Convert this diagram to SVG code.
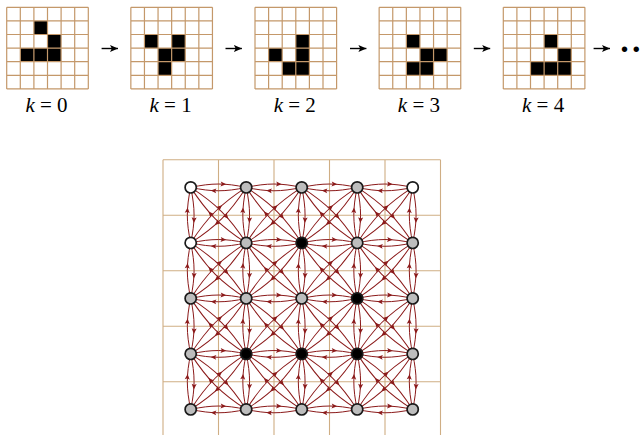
<svg xmlns="http://www.w3.org/2000/svg" width="643" height="435" viewBox="0 0 643 435">
<style>
.gl{fill:none;stroke:#c4986a;stroke-width:1.2}
.bk{fill:#000}
.lbl{font-family:"Liberation Serif","Times New Roman",serif;font-size:21px;fill:#000;text-anchor:middle}
.ar{stroke:#000;stroke-width:1.4;fill:none}
.bg{fill:none;stroke:#cfae84;stroke-width:1.1}
.e{fill:none;stroke:#8b1a1a;stroke-width:1}
.ah{fill:#8b1a1a}
.nd{stroke:#1a1a1a;stroke-width:1.7}
.w{fill:#fff}.g{fill:#bdbdbd}.b{fill:#000}
.dots{font-family:"Liberation Sans",Arial,sans-serif;font-size:20px;fill:#000}
</style>
<defs>
<path id="g6" d="M0,0H81.6M0,13.6H81.6M0,27.2H81.6M0,40.8H81.6M0,54.4H81.6M0,68H81.6M0,81.6H81.6M0,0V81.6M13.6,0V81.6M27.2,0V81.6M40.8,0V81.6M54.4,0V81.6M68,0V81.6M81.6,0V81.6"/>
<marker id="ak" markerWidth="9" markerHeight="9" refX="8" refY="4.5" orient="auto" markerUnits="userSpaceOnUse"><path d="M0,1 L8,4.5 L0,8 L1.8,4.5 Z" fill="#000"/></marker>
<g id="h"><path class="e" d="M0,0C21.2,-4.5 34.3,-4.5 55.5,0"/><path class="ah" transform="translate(35.5,-3.1) rotate(3.8)" d="M0,0L-5.6,-2.5L-4.4,0L-5.6,2.5Z"/></g>
<g id="d"><path class="e" d="M0,0C29.9,-6.37 48.6,-6.37 78.5,0"/><path class="ah" transform="translate(48.8,-4.5) rotate(3.5)" d="M0,0L-5.6,-2.5L-4.4,0L-5.6,2.5Z"/></g>
<g id="hp"><use href="#h"/><use href="#h" transform="translate(55.5,0) rotate(180)"/></g>
<g id="dp"><use href="#d" transform="rotate(45)"/><use href="#d" transform="translate(55.5,55.5) rotate(225)"/></g>
</defs>
<rect width="643" height="435" fill="#fff"/>

<g id="grid-k0" transform="translate(6.7,7.3)">
<rect class="bk" x="27.2" y="13.6" width="13.6" height="13.6"/><rect class="bk" x="40.8" y="27.2" width="13.6" height="13.6"/><rect class="bk" x="13.6" y="40.8" width="13.6" height="13.6"/><rect class="bk" x="27.2" y="40.8" width="13.6" height="13.6"/><rect class="bk" x="40.8" y="40.8" width="13.6" height="13.6"/>
<use href="#g6" class="gl"/>
</g>
<g id="grid-k1" transform="translate(130.85,7.3)">
<rect class="bk" x="13.6" y="27.2" width="13.6" height="13.6"/><rect class="bk" x="40.8" y="27.2" width="13.6" height="13.6"/><rect class="bk" x="27.2" y="40.8" width="13.6" height="13.6"/><rect class="bk" x="40.8" y="40.8" width="13.6" height="13.6"/><rect class="bk" x="27.2" y="54.4" width="13.6" height="13.6"/>
<use href="#g6" class="gl"/>
</g>
<g id="grid-k2" transform="translate(255,7.3)">
<rect class="bk" x="40.8" y="27.2" width="13.6" height="13.6"/><rect class="bk" x="13.6" y="40.8" width="13.6" height="13.6"/><rect class="bk" x="40.8" y="40.8" width="13.6" height="13.6"/><rect class="bk" x="27.2" y="54.4" width="13.6" height="13.6"/><rect class="bk" x="40.8" y="54.4" width="13.6" height="13.6"/>
<use href="#g6" class="gl"/>
</g>
<g id="grid-k3" transform="translate(379.15,7.3)">
<rect class="bk" x="27.2" y="27.2" width="13.6" height="13.6"/><rect class="bk" x="40.8" y="40.8" width="13.6" height="13.6"/><rect class="bk" x="54.4" y="40.8" width="13.6" height="13.6"/><rect class="bk" x="27.2" y="54.4" width="13.6" height="13.6"/><rect class="bk" x="40.8" y="54.4" width="13.6" height="13.6"/>
<use href="#g6" class="gl"/>
</g>
<g id="grid-k4" transform="translate(503.3,7.3)">
<rect class="bk" x="40.8" y="27.2" width="13.6" height="13.6"/><rect class="bk" x="54.4" y="40.8" width="13.6" height="13.6"/><rect class="bk" x="27.2" y="54.4" width="13.6" height="13.6"/><rect class="bk" x="40.8" y="54.4" width="13.6" height="13.6"/><rect class="bk" x="54.4" y="54.4" width="13.6" height="13.6"/>
<use href="#g6" class="gl"/>
</g>

<g id="labels">
<text class="lbl" x="46.5" y="111.5" font-family="Liberation Serif, serif"><tspan font-style="italic">k</tspan> = 0</text>
<text class="lbl" x="170.6" y="111.5" font-family="Liberation Serif, serif"><tspan font-style="italic">k</tspan> = 1</text>
<text class="lbl" x="294.8" y="111.5" font-family="Liberation Serif, serif"><tspan font-style="italic">k</tspan> = 2</text>
<text class="lbl" x="418.9" y="111.5" font-family="Liberation Serif, serif"><tspan font-style="italic">k</tspan> = 3</text>
<text class="lbl" x="543.1" y="111.5" font-family="Liberation Serif, serif"><tspan font-style="italic">k</tspan> = 4</text>
</g>

<g id="step-arrows">
<line class="ar" x1="101.6" y1="48.5" x2="118" y2="48.5" marker-end="url(#ak)"/>
<line class="ar" x1="225.5" y1="48.5" x2="241.9" y2="48.5" marker-end="url(#ak)"/>
<line class="ar" x1="350" y1="48.5" x2="366.4" y2="48.5" marker-end="url(#ak)"/>
<line class="ar" x1="473.8" y1="48.5" x2="490.2" y2="48.5" marker-end="url(#ak)"/>
<line class="ar" x1="593.6" y1="48.5" x2="610" y2="48.5" marker-end="url(#ak)"/>
<text class="dots" x="621" y="55.7">•</text>
<text class="dots" x="632.7" y="55.7">•</text>
</g>

<path id="board" class="bg" d="M163,159.7V437.2M218.5,159.7V437.2M274,159.7V437.2M329.5,159.7V437.2M385,159.7V437.2M440.5,159.7V437.2M163,159.7H440.5M163,215.2H440.5M163,270.7H440.5M163,326.2H440.5M163,381.7H440.5M163,437.2H440.5"/>

<g id="connectors" transform="translate(190.7,187.4)">
<use href="#hp" x="0" y="0"/><use href="#hp" x="55.5" y="0"/><use href="#hp" x="111" y="0"/><use href="#hp" x="166.5" y="0"/>
<use href="#hp" x="0" y="55.5"/><use href="#hp" x="55.5" y="55.5"/><use href="#hp" x="111" y="55.5"/><use href="#hp" x="166.5" y="55.5"/>
<use href="#hp" x="0" y="111"/><use href="#hp" x="55.5" y="111"/><use href="#hp" x="111" y="111"/><use href="#hp" x="166.5" y="111"/>
<use href="#hp" x="0" y="166.5"/><use href="#hp" x="55.5" y="166.5"/><use href="#hp" x="111" y="166.5"/><use href="#hp" x="166.5" y="166.5"/>
<use href="#hp" x="0" y="222"/><use href="#hp" x="55.5" y="222"/><use href="#hp" x="111" y="222"/><use href="#hp" x="166.5" y="222"/>
<use href="#hp" transform="translate(0,0) rotate(90)"/><use href="#hp" transform="translate(0,55.5) rotate(90)"/><use href="#hp" transform="translate(0,111) rotate(90)"/><use href="#hp" transform="translate(0,166.5) rotate(90)"/>
<use href="#hp" transform="translate(55.5,0) rotate(90)"/><use href="#hp" transform="translate(55.5,55.5) rotate(90)"/><use href="#hp" transform="translate(55.5,111) rotate(90)"/><use href="#hp" transform="translate(55.5,166.5) rotate(90)"/>
<use href="#hp" transform="translate(111,0) rotate(90)"/><use href="#hp" transform="translate(111,55.5) rotate(90)"/><use href="#hp" transform="translate(111,111) rotate(90)"/><use href="#hp" transform="translate(111,166.5) rotate(90)"/>
<use href="#hp" transform="translate(166.5,0) rotate(90)"/><use href="#hp" transform="translate(166.5,55.5) rotate(90)"/><use href="#hp" transform="translate(166.5,111) rotate(90)"/><use href="#hp" transform="translate(166.5,166.5) rotate(90)"/>
<use href="#hp" transform="translate(222,0) rotate(90)"/><use href="#hp" transform="translate(222,55.5) rotate(90)"/><use href="#hp" transform="translate(222,111) rotate(90)"/><use href="#hp" transform="translate(222,166.5) rotate(90)"/>
<use href="#dp" x="0" y="0"/><use href="#dp" x="55.5" y="0"/><use href="#dp" x="111" y="0"/><use href="#dp" x="166.5" y="0"/>
<use href="#dp" x="0" y="55.5"/><use href="#dp" x="55.5" y="55.5"/><use href="#dp" x="111" y="55.5"/><use href="#dp" x="166.5" y="55.5"/>
<use href="#dp" x="0" y="111"/><use href="#dp" x="55.5" y="111"/><use href="#dp" x="111" y="111"/><use href="#dp" x="166.5" y="111"/>
<use href="#dp" x="0" y="166.5"/><use href="#dp" x="55.5" y="166.5"/><use href="#dp" x="111" y="166.5"/><use href="#dp" x="166.5" y="166.5"/>
<use href="#dp" transform="translate(55.5,0) rotate(90)"/><use href="#dp" transform="translate(111,0) rotate(90)"/><use href="#dp" transform="translate(166.5,0) rotate(90)"/><use href="#dp" transform="translate(222,0) rotate(90)"/>
<use href="#dp" transform="translate(55.5,55.5) rotate(90)"/><use href="#dp" transform="translate(111,55.5) rotate(90)"/><use href="#dp" transform="translate(166.5,55.5) rotate(90)"/><use href="#dp" transform="translate(222,55.5) rotate(90)"/>
<use href="#dp" transform="translate(55.5,111) rotate(90)"/><use href="#dp" transform="translate(111,111) rotate(90)"/><use href="#dp" transform="translate(166.5,111) rotate(90)"/><use href="#dp" transform="translate(222,111) rotate(90)"/>
<use href="#dp" transform="translate(55.5,166.5) rotate(90)"/><use href="#dp" transform="translate(111,166.5) rotate(90)"/><use href="#dp" transform="translate(166.5,166.5) rotate(90)"/><use href="#dp" transform="translate(222,166.5) rotate(90)"/>
</g>

<g id="n00"><circle class="nd w" cx="190.7" cy="187.4" r="5.6"/></g>
<g id="n01"><circle class="nd g" cx="246.2" cy="187.4" r="5.6"/></g>
<g id="n02"><circle class="nd g" cx="301.7" cy="187.4" r="5.6"/></g>
<g id="n03"><circle class="nd g" cx="357.2" cy="187.4" r="5.6"/></g>
<g id="n04"><circle class="nd w" cx="412.7" cy="187.4" r="5.6"/></g>
<g id="n10"><circle class="nd w" cx="190.7" cy="242.9" r="5.6"/></g>
<g id="n11"><circle class="nd g" cx="246.2" cy="242.9" r="5.6"/></g>
<g id="n12"><circle class="nd b" cx="301.7" cy="242.9" r="5.6"/></g>
<g id="n13"><circle class="nd g" cx="357.2" cy="242.9" r="5.6"/></g>
<g id="n14"><circle class="nd g" cx="412.7" cy="242.9" r="5.6"/></g>
<g id="n20"><circle class="nd g" cx="190.7" cy="298.4" r="5.6"/></g>
<g id="n21"><circle class="nd g" cx="246.2" cy="298.4" r="5.6"/></g>
<g id="n22"><circle class="nd g" cx="301.7" cy="298.4" r="5.6"/></g>
<g id="n23"><circle class="nd b" cx="357.2" cy="298.4" r="5.6"/></g>
<g id="n24"><circle class="nd g" cx="412.7" cy="298.4" r="5.6"/></g>
<g id="n30"><circle class="nd g" cx="190.7" cy="353.9" r="5.6"/></g>
<g id="n31"><circle class="nd b" cx="246.2" cy="353.9" r="5.6"/></g>
<g id="n32"><circle class="nd b" cx="301.7" cy="353.9" r="5.6"/></g>
<g id="n33"><circle class="nd b" cx="357.2" cy="353.9" r="5.6"/></g>
<g id="n34"><circle class="nd g" cx="412.7" cy="353.9" r="5.6"/></g>
<g id="n40"><circle class="nd g" cx="190.7" cy="409.4" r="5.6"/></g>
<g id="n41"><circle class="nd g" cx="246.2" cy="409.4" r="5.6"/></g>
<g id="n42"><circle class="nd g" cx="301.7" cy="409.4" r="5.6"/></g>
<g id="n43"><circle class="nd g" cx="357.2" cy="409.4" r="5.6"/></g>
<g id="n44"><circle class="nd g" cx="412.7" cy="409.4" r="5.6"/></g>
</svg>
